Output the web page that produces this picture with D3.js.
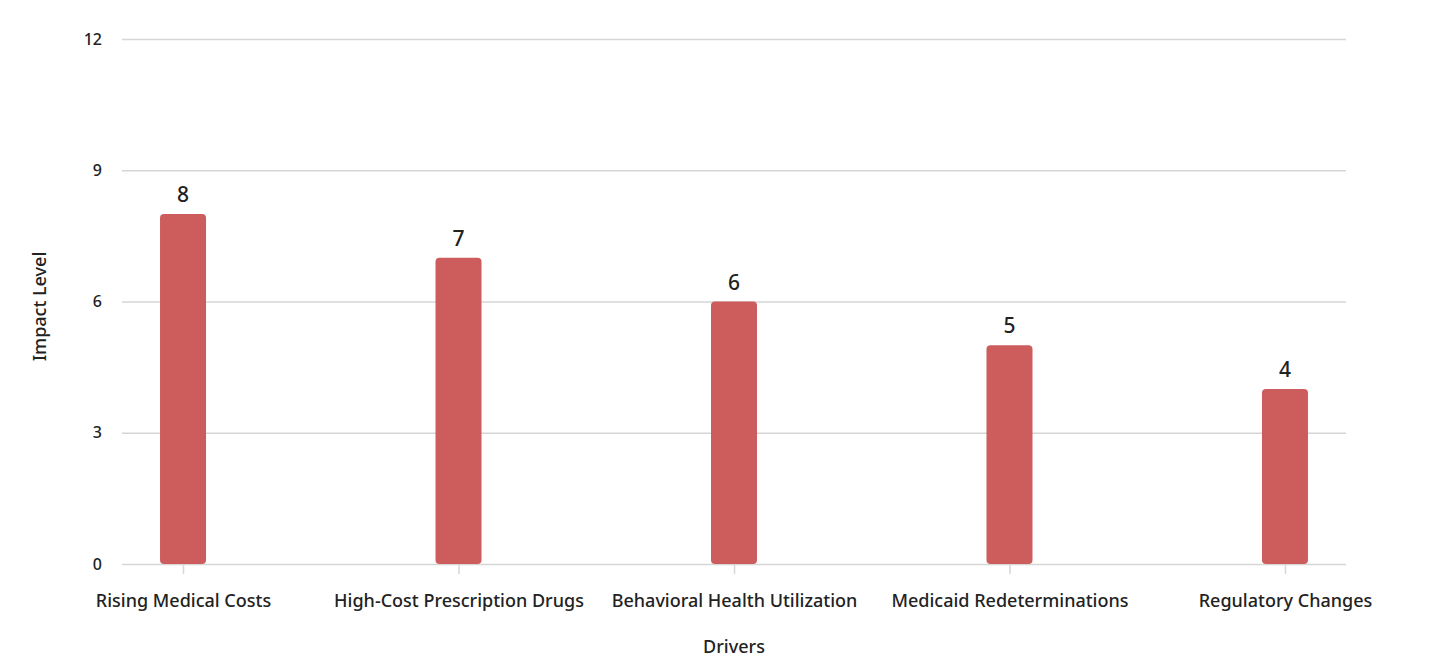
<!DOCTYPE html>
<html>
<head>
<meta charset="utf-8">
<script src="https://cdn.jsdelivr.net/npm/d3@7"></script>
<style>
  body { margin: 0; background: #fff; }
  svg { font-family: "Noto Sans", "Open Sans", sans-serif; }
</style>
</head>
<body>
<svg id="chart"></svg>
<script>
const drivers = ["Rising Medical Costs", "High-Cost Prescription Drugs", "Behavioral Health Utilization", "Medicaid Redeterminations", "Regulatory Changes"]
const impact = [8, 7, 6, 5, 4]
const yTicks = [0, 3, 6, 9, 12]

const width = 1430, height = 669
const margin = {top: 39, right: 84, bottom: 105, left: 122}

const data = drivers.map((d, i) => ({driver: d, value: impact[i]}))

const svg = d3.select("#chart")
  .attr("width", width)
  .attr("height", height)

const x = d3.scalePoint()
  .domain(drivers)
  .range([margin.left, width - margin.right])
  .padding(0.2215)

const y = d3.scaleLinear()
  .domain([0, 12])
  .range([height - margin.bottom, margin.top])

const barWidth = 46

// gridlines + y labels
const yAxis = g => g
  .attr("transform", `translate(${margin.left},0)`)
  .call(d3.axisLeft(y).tickValues(yTicks).tickSize(-(width - margin.left - margin.right)).tickPadding(20))
  .call(g => g.select(".domain").remove())
  .call(g => g.selectAll(".tick line").attr("stroke", "#d6d6d6").attr("stroke-width", 1.5))
  .call(g => g.selectAll(".tick text").attr("fill", "#222").attr("font-size", 16).attr("font-weight", 500))

const xAxis = g => g
  .attr("transform", `translate(0,${height - margin.bottom})`)
  .call(d3.axisBottom(x).tickSize(10).tickPadding(20))
  .call(g => g.select(".domain").remove())
  .call(g => g.selectAll(".tick line").attr("stroke", "#d6d6d6").attr("stroke-width", 1.5))
  .call(g => g.selectAll(".tick text").attr("fill", "#222").attr("font-size", 18).attr("font-weight", 500))

svg.append("g").call(yAxis).attr("font-family", null)
svg.append("g").call(xAxis).attr("font-family", null)

svg.append("g")
  .selectAll("rect")
  .data(data)
  .join("rect")
    .attr("x", d => x(d.driver) - barWidth / 2)
    .attr("y", d => y(d.value))
    .attr("width", barWidth)
    .attr("height", d => y(0) - y(d.value))
    .attr("rx", 4)
    .attr("fill", "#cd5c5c")

svg.append("g")
  .selectAll("text")
  .data(data)
  .join("text")
    .attr("x", d => x(d.driver))
    .attr("y", d => y(d.value) - 12)
    .attr("text-anchor", "middle")
    .attr("font-size", 21)
    .attr("font-weight", 500)
    .attr("fill", "#222")
    .text(d => d.value)

svg.append("text")
  .attr("x", (margin.left + width - margin.right) / 2)
  .attr("y", 653)
  .attr("text-anchor", "middle")
  .attr("font-size", 18)
  .attr("font-weight", 500)
  .attr("fill", "#222")
  .text("Drivers")

svg.append("text")
  .attr("transform", `translate(46,${(y(0) + y(12)) / 2 + 5}) rotate(-90)`)
  .attr("text-anchor", "middle")
  .attr("font-size", 18)
  .attr("font-weight", 500)
  .attr("fill", "#222")
  .text("Impact Level")
</script>
</body>
</html>
